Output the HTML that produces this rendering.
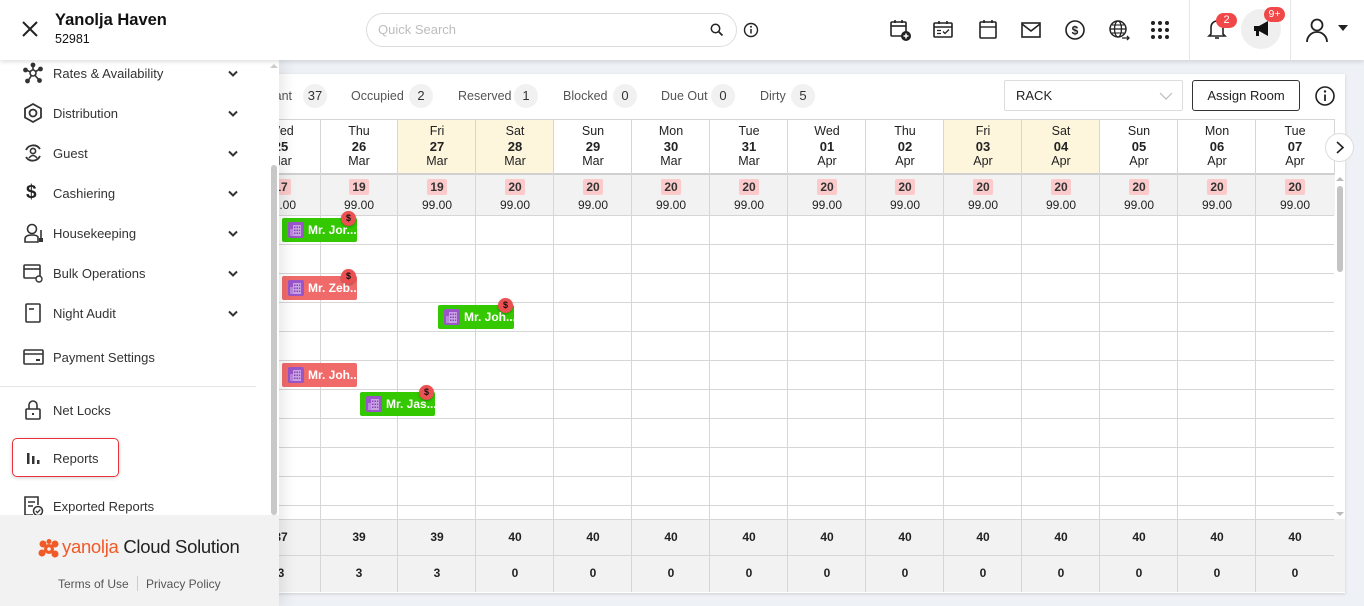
<!DOCTYPE html>
<html><head><meta charset="utf-8">
<style>
*{box-sizing:border-box;margin:0;padding:0}
body{width:1364px;height:606px;overflow:hidden;background:#eef2f6;font-family:"Liberation Sans",Arial,sans-serif;color:#222;position:relative}
.a{position:absolute}
.top{left:0;top:0;width:1364px;height:60px;background:#fff;box-shadow:0 2px 4px rgba(0,0,0,.12);z-index:5}
.card{left:200px;top:74px;width:1145px;height:519px;background:#fff;box-shadow:0 1px 3px rgba(0,0,0,.15)}
.side{left:0;top:60px;width:279px;height:546px;background:#fff;z-index:4;box-shadow:4px 0 14px rgba(0,0,0,.10)}
.mi{position:absolute;left:53px;font-size:13px;color:#333;line-height:16px}
.ic{position:absolute;left:22px;width:22px;height:22px}
.chev{position:absolute;left:227px;width:12px;height:8px}
.st{position:absolute;top:89px;font-size:12.5px;color:#555;line-height:15px}
.bd{position:absolute;top:84px;width:24px;height:24px;border-radius:12px;background:#f1f1f1;font-size:13px;color:#333;text-align:center;line-height:24px}
.h{position:absolute;top:120px;width:78px;height:53px;text-align:center;font-size:12.5px;line-height:15px;padding-top:4px;color:#222}
.h b{font-size:13px;display:block}
.y{background:#fdf6dd}
.vl{position:absolute;top:119px;width:1px;height:473px;background:#d6d6d6}
.hl{position:absolute;left:242px;width:1092px;height:1px;background:#d6d6d6}
.rb{position:absolute;top:178px;width:78px;text-align:center}
.rb span{display:inline-block;background:#fccaca;font-size:12px;font-weight:bold;line-height:16px;padding:0 3px;border-radius:2px;color:#333}
.pr{position:absolute;top:198px;width:78px;text-align:center;font-size:12px;color:#222;line-height:14px}
.sv{position:absolute;width:78px;text-align:center;font-size:12px;font-weight:bold;color:#222;line-height:14px}
.bk{position:absolute;width:75px;height:24px;border-radius:2px;color:#fff;font-size:12px;font-weight:bold;line-height:24px;padding-left:26px;white-space:nowrap;overflow:hidden}
.bk svg{position:absolute;left:6px;top:4px}
.g{background:#33c800}
.r{background:#f06a6a}
.dl{position:absolute;width:15px;height:15px;border-radius:8px;background:#ec5050;color:#111;font-size:9px;font-weight:bold;text-align:center;line-height:15px;box-shadow:0 1px 2px rgba(0,0,0,.3)}
.ti{position:absolute;top:18px;width:24px;height:24px}
</style></head><body>

<!-- card -->
<div class="a card"></div>

<!-- stats -->
<div class="st" style="left:254px">Vacant</div><div class="bd" style="left:303px">37</div>
<div class="st" style="left:351px">Occupied</div><div class="bd" style="left:409px">2</div>
<div class="st" style="left:458px">Reserved</div><div class="bd" style="left:514px">1</div>
<div class="st" style="left:563px">Blocked</div><div class="bd" style="left:613px">0</div>
<div class="st" style="left:661px">Due Out</div><div class="bd" style="left:711px">0</div>
<div class="st" style="left:760px">Dirty</div><div class="bd" style="left:791px">5</div>

<div class="a" style="left:1004px;top:80px;width:179px;height:31px;border:1px solid #ddd;border-radius:2px;font-size:13px;line-height:29px;padding-left:11px;color:#222">RACK
<svg class="a" style="left:154px;top:11px" width="14" height="8"><path d="M1 1 L7 7 L13 1" fill="none" stroke="#bbb" stroke-width="1.2"/></svg></div>
<div class="a" style="left:1192px;top:80px;width:108px;height:31px;border:1px solid #333;border-radius:3px;font-size:13px;line-height:29px;text-align:center;color:#222">Assign Room</div>
<svg class="a" style="left:1314px;top:85px" width="22" height="22"><circle cx="11" cy="11" r="9" fill="none" stroke="#222" stroke-width="1.6"/><line x1="11" y1="9.5" x2="11" y2="16" stroke="#222" stroke-width="1.8"/><circle cx="11" cy="6.5" r="1.2" fill="#222"/></svg>

<!-- grid backgrounds -->
<div class="a" style="left:242px;top:175px;width:1093px;height:40px;background:#f2f2f2"></div>
<div class="a" style="left:242px;top:519px;width:1103px;height:73px;background:#f2f2f2"></div>

<!-- header cells -->
<div class="h" style="left:242px">Wed<b>25</b>Mar</div>
<div class="h" style="left:320px">Thu<b>26</b>Mar</div>
<div class="h y" style="left:398px">Fri<b>27</b>Mar</div>
<div class="h y" style="left:476px">Sat<b>28</b>Mar</div>
<div class="h" style="left:554px">Sun<b>29</b>Mar</div>
<div class="h" style="left:632px">Mon<b>30</b>Mar</div>
<div class="h" style="left:710px">Tue<b>31</b>Mar</div>
<div class="h" style="left:788px">Wed<b>01</b>Apr</div>
<div class="h" style="left:866px">Thu<b>02</b>Apr</div>
<div class="h y" style="left:944px">Fri<b>03</b>Apr</div>
<div class="h y" style="left:1022px">Sat<b>04</b>Apr</div>
<div class="h" style="left:1100px">Sun<b>05</b>Apr</div>
<div class="h" style="left:1178px">Mon<b>06</b>Apr</div>
<div class="h" style="left:1256px">Tue<b>07</b>Apr</div>

<!-- horizontal lines -->
<div class="hl" style="top:119px"></div>
<div class="hl" style="top:173px;height:2px;background:#d0d0d0"></div>
<div class="hl" style="top:215px"></div>
<div class="hl" style="top:244px"></div>
<div class="hl" style="top:273px"></div>
<div class="hl" style="top:302px"></div>
<div class="hl" style="top:331px"></div>
<div class="hl" style="top:360px"></div>
<div class="hl" style="top:389px"></div>
<div class="hl" style="top:418px"></div>
<div class="hl" style="top:447px"></div>
<div class="hl" style="top:476px"></div>
<div class="hl" style="top:505px"></div>
<div class="hl" style="top:519px"></div>
<div class="hl" style="top:555px"></div>

<!-- vertical lines -->
<div class="vl" style="left:242px"></div><div class="vl" style="left:320px"></div><div class="vl" style="left:397px"></div><div class="vl" style="left:475px"></div><div class="vl" style="left:553px"></div><div class="vl" style="left:631px"></div><div class="vl" style="left:709px"></div><div class="vl" style="left:787px"></div><div class="vl" style="left:865px"></div><div class="vl" style="left:943px"></div><div class="vl" style="left:1021px"></div><div class="vl" style="left:1099px"></div><div class="vl" style="left:1177px"></div><div class="vl" style="left:1255px"></div><div class="vl" style="left:1334px;top:119px;height:56px"></div>

<!-- rate badges -->
<div class="rb" style="left:242px"><span>17</span></div><div class="rb" style="left:320px"><span>19</span></div><div class="rb" style="left:398px"><span>19</span></div><div class="rb" style="left:476px"><span>20</span></div><div class="rb" style="left:554px"><span>20</span></div><div class="rb" style="left:632px"><span>20</span></div><div class="rb" style="left:710px"><span>20</span></div><div class="rb" style="left:788px"><span>20</span></div><div class="rb" style="left:866px"><span>20</span></div><div class="rb" style="left:944px"><span>20</span></div><div class="rb" style="left:1022px"><span>20</span></div><div class="rb" style="left:1100px"><span>20</span></div><div class="rb" style="left:1178px"><span>20</span></div><div class="rb" style="left:1256px"><span>20</span></div>
<div class="pr" style="left:242px">99.00</div><div class="pr" style="left:320px">99.00</div><div class="pr" style="left:398px">99.00</div><div class="pr" style="left:476px">99.00</div><div class="pr" style="left:554px">99.00</div><div class="pr" style="left:632px">99.00</div><div class="pr" style="left:710px">99.00</div><div class="pr" style="left:788px">99.00</div><div class="pr" style="left:866px">99.00</div><div class="pr" style="left:944px">99.00</div><div class="pr" style="left:1022px">99.00</div><div class="pr" style="left:1100px">99.00</div><div class="pr" style="left:1178px">99.00</div><div class="pr" style="left:1256px">99.00</div>

<!-- summary -->
<div class="sv" style="left:242px;top:530px">37</div><div class="sv" style="left:320px;top:530px">39</div><div class="sv" style="left:398px;top:530px">39</div><div class="sv" style="left:476px;top:530px">40</div><div class="sv" style="left:554px;top:530px">40</div><div class="sv" style="left:632px;top:530px">40</div><div class="sv" style="left:710px;top:530px">40</div><div class="sv" style="left:788px;top:530px">40</div><div class="sv" style="left:866px;top:530px">40</div><div class="sv" style="left:944px;top:530px">40</div><div class="sv" style="left:1022px;top:530px">40</div><div class="sv" style="left:1100px;top:530px">40</div><div class="sv" style="left:1178px;top:530px">40</div><div class="sv" style="left:1256px;top:530px">40</div>
<div class="sv" style="left:242px;top:566px">3</div><div class="sv" style="left:320px;top:566px">3</div><div class="sv" style="left:398px;top:566px">3</div><div class="sv" style="left:476px;top:566px">0</div><div class="sv" style="left:554px;top:566px">0</div><div class="sv" style="left:632px;top:566px">0</div><div class="sv" style="left:710px;top:566px">0</div><div class="sv" style="left:788px;top:566px">0</div><div class="sv" style="left:866px;top:566px">0</div><div class="sv" style="left:944px;top:566px">0</div><div class="sv" style="left:1022px;top:566px">0</div><div class="sv" style="left:1100px;top:566px">0</div><div class="sv" style="left:1178px;top:566px">0</div><div class="sv" style="left:1256px;top:566px">0</div>

<!-- grid scrollbar -->
<div class="a" style="left:1335px;top:175px;width:10px;height:344px;background:#fff"></div>
<div class="a" style="left:1337px;top:186px;width:6px;height:86px;border-radius:3px;background:#c4c4c4"></div>
<svg class="a" style="left:1336px;top:176px" width="8" height="6"><path d="M0 5 L4 1 L8 5Z" fill="#bbb"/></svg>
<svg class="a" style="left:1336px;top:511px" width="8" height="6"><path d="M0 1 L4 5 L8 1Z" fill="#bbb"/></svg>

<!-- next arrow -->
<div class="a" style="left:1325px;top:133px;width:29px;height:29px;border-radius:15px;background:#fff;border:1px solid #ddd"></div>
<svg class="a" style="left:1333px;top:140px" width="14" height="15"><path d="M4 2 L10 7.5 L4 13" fill="none" stroke="#222" stroke-width="1.6"/></svg>

<!-- bookings -->
<svg width="0" height="0" style="position:absolute"><defs><g id="bi"><rect x="0" y="0" width="16" height="16" rx="2" fill="#9a55c8"/><rect x="5" y="3" width="8" height="11" fill="#c9a2e4"/><rect x="2" y="7" width="3" height="7" fill="#b787d9"/><g fill="#8a45bb"><rect x="6" y="4.5" width="1.5" height="1.5"/><rect x="8.5" y="4.5" width="1.5" height="1.5"/><rect x="11" y="4.5" width="1.2" height="1.5"/><rect x="6" y="7.5" width="1.5" height="1.5"/><rect x="8.5" y="7.5" width="1.5" height="1.5"/><rect x="11" y="7.5" width="1.2" height="1.5"/><rect x="6" y="10.5" width="1.5" height="1.5"/><rect x="8.5" y="10.5" width="1.5" height="1.5"/><rect x="11" y="10.5" width="1.2" height="1.5"/></g></g></defs></svg>
<div class="bk g" style="left:282px;top:218px"><svg width="16" height="16"><use href="#bi"/></svg>Mr. Jor...</div>
<div class="dl" style="left:341px;top:211px">$</div>
<div class="bk r" style="left:282px;top:276px"><svg width="16" height="16"><use href="#bi"/></svg>Mr. Zeb...</div>
<div class="dl" style="left:341px;top:269px">$</div>
<div class="bk g" style="left:438px;top:305px;width:76px"><svg width="16" height="16"><use href="#bi"/></svg>Mr. Joh...</div>
<div class="dl" style="left:498px;top:298px">$</div>
<div class="bk r" style="left:282px;top:363px"><svg width="16" height="16"><use href="#bi"/></svg>Mr. Joh...</div>
<div class="bk g" style="left:360px;top:392px"><svg width="16" height="16"><use href="#bi"/></svg>Mr. Jas...</div>
<div class="dl" style="left:419px;top:385px">$</div>

<!-- sidebar -->
<div class="a side">
  <!-- scrollbar -->
  <svg class="a" style="left:270px;top:3px" width="8" height="6"><path d="M0 5 L4 1 L8 5Z" fill="#ccc"/></svg>
  <div class="a" style="left:271px;top:105px;width:6px;height:350px;border-radius:3px;background:#c8c8c8"></div>

  <!-- items (top coords relative to sidebar: page y - 60) -->
  <svg class="ic" style="top:2px" viewBox="0 0 22 22"><g stroke="#333" stroke-width="1.6" fill="#333"><line x1="11" y1="11" x2="11" y2="3"/><line x1="11" y1="11" x2="4" y2="8"/><line x1="11" y1="11" x2="18" y2="7"/><line x1="11" y1="11" x2="6" y2="19"/><line x1="11" y1="11" x2="17" y2="18"/><circle cx="11" cy="3" r="1.6"/><circle cx="3.5" cy="8" r="1.6"/><circle cx="18.5" cy="7" r="1.6"/><circle cx="5.5" cy="19" r="1.6"/><circle cx="17.5" cy="18.5" r="1.6"/><circle cx="11" cy="11" r="3" fill="#fff"/></g></svg>
  <div class="mi" style="top:6px">Rates &amp; Availability</div>
  <svg class="chev" style="top:10px"><path d="M2 1.5 L6 5.5 L10 1.5" fill="none" stroke="#333" stroke-width="2"/></svg>

  <svg class="ic" style="top:42px" viewBox="0 0 22 22"><path d="M11 2 L19 6.5 L19 15.5 L11 20 L3 15.5 L3 6.5Z" fill="none" stroke="#333" stroke-width="1.8"/><circle cx="11" cy="11" r="3.5" fill="none" stroke="#333" stroke-width="1.8"/></svg>
  <div class="mi" style="top:46px">Distribution</div>
  <svg class="chev" style="top:50px"><path d="M2 1.5 L6 5.5 L10 1.5" fill="none" stroke="#333" stroke-width="2"/></svg>

  <svg class="ic" style="top:82px" viewBox="0 0 22 22"><path d="M4 8 A8 8 0 0 1 18 7 M18 14 A8 8 0 0 1 4 15" fill="none" stroke="#333" stroke-width="1.8"/><circle cx="11" cy="9" r="2.6" fill="none" stroke="#333" stroke-width="1.6"/><path d="M7 16 Q11 11 15 16" fill="none" stroke="#333" stroke-width="1.6"/></svg>
  <div class="mi" style="top:86px">Guest</div>
  <svg class="chev" style="top:90px"><path d="M2 1.5 L6 5.5 L10 1.5" fill="none" stroke="#333" stroke-width="2"/></svg>

  <div class="a" style="left:26px;top:122px;font-size:19px;font-weight:bold;color:#222">$</div>
  <div class="mi" style="top:126px">Cashiering</div>
  <svg class="chev" style="top:130px"><path d="M2 1.5 L6 5.5 L10 1.5" fill="none" stroke="#333" stroke-width="2"/></svg>

  <svg class="ic" style="top:162px" viewBox="0 0 22 22"><circle cx="10" cy="7" r="4.5" fill="none" stroke="#333" stroke-width="1.6"/><path d="M3 20 L3 17 Q3 13 10 13 Q15 13 16 15 L16 20Z" fill="none" stroke="#333" stroke-width="1.6"/><line x1="19" y1="8" x2="19" y2="20" stroke="#333" stroke-width="1.6"/><rect x="17" y="16" width="4" height="4" fill="#333"/></svg>
  <div class="mi" style="top:166px">Housekeeping</div>
  <svg class="chev" style="top:170px"><path d="M2 1.5 L6 5.5 L10 1.5" fill="none" stroke="#333" stroke-width="2"/></svg>

  <svg class="ic" style="top:202px" viewBox="0 0 22 22"><rect x="2" y="3" width="16" height="13" rx="1" fill="none" stroke="#333" stroke-width="1.6"/><line x1="2" y1="7" x2="18" y2="7" stroke="#333" stroke-width="1.6"/><circle cx="17" cy="17" r="3" fill="#fff" stroke="#333" stroke-width="1.4"/></svg>
  <div class="mi" style="top:206px">Bulk Operations</div>
  <svg class="chev" style="top:210px"><path d="M2 1.5 L6 5.5 L10 1.5" fill="none" stroke="#333" stroke-width="2"/></svg>

  <svg class="ic" style="top:242px" viewBox="0 0 22 22"><rect x="4" y="2" width="14" height="18" rx="1" fill="none" stroke="#333" stroke-width="1.6"/><line x1="7" y1="7" x2="12" y2="7" stroke="#333" stroke-width="1.6"/></svg>
  <div class="mi" style="top:246px">Night Audit</div>
  <svg class="chev" style="top:250px"><path d="M2 1.5 L6 5.5 L10 1.5" fill="none" stroke="#333" stroke-width="2"/></svg>

  <svg class="ic" style="top:286px" viewBox="0 0 22 22"><rect x="2" y="4" width="19" height="14" rx="1" fill="none" stroke="#333" stroke-width="1.6"/><line x1="2" y1="8" x2="21" y2="8" stroke="#333" stroke-width="1.6"/><rect x="14" y="13" width="4" height="2" fill="#333"/></svg>
  <div class="mi" style="top:290px">Payment Settings</div>

  <div class="a" style="left:0;top:326px;width:256px;height:1px;background:#e6e6e6"></div>

  <svg class="ic" style="top:339px" viewBox="0 0 22 22"><path d="M7 10 L7 6 A4 4 0 0 1 15 6 L15 10" fill="none" stroke="#333" stroke-width="1.6"/><rect x="4" y="10" width="14" height="10" rx="1" fill="none" stroke="#333" stroke-width="1.6"/><rect x="10" y="14" width="2" height="2" fill="#333"/></svg>
  <div class="mi" style="top:343px">Net Locks</div>

  <div class="a" style="left:12px;top:378px;width:107px;height:39px;border:1.5px solid #e8323a;border-radius:5px;box-shadow:0 1px 4px rgba(0,0,0,.18)"></div>
  <svg class="a" style="left:25px;top:390px" width="16" height="16"><rect x="2" y="3" width="2.5" height="11" fill="#333"/><rect x="7" y="6" width="2.5" height="8" fill="#333"/><rect x="12" y="10" width="2.5" height="4" fill="#333"/></svg>
  <div class="mi" style="top:391px">Reports</div>

  <svg class="ic" style="top:435px" viewBox="0 0 22 22"><path d="M16 10 L16 2 L3 2 L3 20 L11 20" fill="none" stroke="#333" stroke-width="1.6"/><line x1="6" y1="7" x2="13" y2="7" stroke="#333" stroke-width="1.5"/><line x1="6" y1="11" x2="11" y2="11" stroke="#333" stroke-width="1.5"/><circle cx="16" cy="16" r="4.5" fill="#fff" stroke="#333" stroke-width="1.5"/><path d="M13.8 16 L15.5 17.6 L18.3 14.6" fill="none" stroke="#333" stroke-width="1.3"/></svg>
  <div class="mi" style="top:439px">Exported Reports</div>

  <!-- footer -->
  <div class="a" style="left:0;top:455px;width:279px;height:91px;background:#f2f2f2"></div>
  <svg class="a" style="left:38px;top:479px" width="22" height="20" viewBox="0 0 22 20"><g fill="#f05a28"><circle cx="11" cy="10" r="5"/><circle cx="5" cy="5" r="3.5"/><circle cx="17" cy="5" r="3.5"/><circle cx="4" cy="14" r="3.5"/><circle cx="17" cy="15" r="3.5"/><circle cx="11" cy="2.5" r="2.5"/></g><circle cx="11" cy="10" r="1.8" fill="#f2f2f2"/></svg>
  <div class="a" style="left:62px;top:476px;font-size:18.5px;line-height:22px;white-space:nowrap;letter-spacing:-0.3px"><span style="color:#f05a28">yanolja</span><span style="color:#222"> Cloud Solution</span></div>
  <div class="a" style="left:58px;top:517px;font-size:12px;color:#555;white-space:nowrap">Terms of Use</div>
  <div class="a" style="left:137px;top:516px;width:1px;height:15px;background:#ccc"></div>
  <div class="a" style="left:146px;top:517px;font-size:12px;color:#555;white-space:nowrap">Privacy Policy</div>
</div>

<!-- topbar -->
<div class="a top">
  <svg class="a" style="left:21px;top:20px" width="18" height="18"><path d="M2 2 L16 16 M16 2 L2 16" stroke="#222" stroke-width="2"/></svg>
  <div class="a" style="left:55px;top:11px;font-size:16.5px;font-weight:bold;color:#111;white-space:nowrap">Yanolja Haven</div>
  <div class="a" style="left:55px;top:32px;font-size:12.5px;color:#111">52981</div>

  <div class="a" style="left:366px;top:13px;width:371px;height:34px;border:1px solid #dcdcdc;border-radius:17px"></div>
  <div class="a" style="left:378px;top:22px;font-size:13px;color:#bdbdbd">Quick Search</div>
  <svg class="a" style="left:710px;top:23px" width="14" height="14"><circle cx="5.5" cy="5.5" r="4.2" fill="none" stroke="#222" stroke-width="1.5"/><line x1="8.5" y1="8.5" x2="12.5" y2="12.5" stroke="#222" stroke-width="1.7"/></svg>
  <svg class="a" style="left:743px;top:22px" width="16" height="16"><circle cx="8" cy="8" r="6.5" fill="none" stroke="#222" stroke-width="1.4"/><line x1="8" y1="7" x2="8" y2="11.5" stroke="#222" stroke-width="1.5"/><circle cx="8" cy="4.8" r="1" fill="#222"/></svg>

  <!-- right icons -->
  <svg class="ti" style="left:888px" viewBox="0 0 24 24"><rect x="3" y="4" width="15" height="14" rx="1" fill="none" stroke="#222" stroke-width="1.6"/><line x1="3" y1="8" x2="18" y2="8" stroke="#222" stroke-width="1.6"/><line x1="7" y1="2" x2="7" y2="5" stroke="#222" stroke-width="1.6"/><line x1="14" y1="2" x2="14" y2="5" stroke="#222" stroke-width="1.6"/><circle cx="18" cy="18" r="5" fill="#222"/><path d="M18 15.5 V20.5 M15.5 18 H20.5" stroke="#fff" stroke-width="1.5"/></svg>
  <svg class="ti" style="left:931px" viewBox="0 0 24 24"><rect x="3" y="5" width="18" height="14" rx="1" fill="none" stroke="#222" stroke-width="1.6"/><line x1="3" y1="9" x2="21" y2="9" stroke="#222" stroke-width="1.4"/><line x1="8" y1="3" x2="8" y2="6" stroke="#222" stroke-width="1.6"/><line x1="16" y1="3" x2="16" y2="6" stroke="#222" stroke-width="1.6"/><path d="M6 12.5 H10 M6 15.5 H10 M12 13.5 L14 15.5 L18 11.5" fill="none" stroke="#222" stroke-width="1.3"/></svg>
  <svg class="ti" style="left:976px" viewBox="0 0 24 24"><rect x="4" y="4" width="16" height="16" rx="1" fill="none" stroke="#222" stroke-width="1.6"/><line x1="4" y1="9" x2="20" y2="9" stroke="#222" stroke-width="1.4"/><line x1="8" y1="2" x2="8" y2="5" stroke="#222" stroke-width="1.6"/><line x1="16" y1="2" x2="16" y2="5" stroke="#222" stroke-width="1.6"/></svg>
  <svg class="ti" style="left:1019px" viewBox="0 0 24 24"><rect x="3" y="5" width="18" height="14" fill="none" stroke="#222" stroke-width="1.6"/><path d="M3 6 L12 13 L21 6" fill="none" stroke="#222" stroke-width="1.6"/></svg>
  <svg class="ti" style="left:1063px" viewBox="0 0 24 24"><circle cx="12" cy="12" r="9" fill="none" stroke="#222" stroke-width="1.6"/><text x="12" y="16.5" font-size="12" font-weight="bold" text-anchor="middle" font-family="Liberation Sans" fill="#222">$</text></svg>
  <svg class="ti" style="left:1107px" viewBox="0 0 24 24"><circle cx="11" cy="11" r="8" fill="none" stroke="#222" stroke-width="1.5"/><ellipse cx="11" cy="11" rx="3.5" ry="8" fill="none" stroke="#222" stroke-width="1.3"/><line x1="3" y1="11" x2="19" y2="11" stroke="#222" stroke-width="1.3"/><line x1="5" y1="7" x2="17" y2="7" stroke="#222" stroke-width="1.1"/><line x1="5" y1="15" x2="17" y2="15" stroke="#222" stroke-width="1.1"/><path d="M15 20 H22 M20 18 L22 20 L20 22" fill="none" stroke="#222" stroke-width="1.3"/></svg>
  <svg class="ti" style="left:1148px" viewBox="0 0 24 24"><g fill="#222"><circle cx="5" cy="5" r="2"/><circle cx="12" cy="5" r="2"/><circle cx="19" cy="5" r="2"/><circle cx="5" cy="12" r="2"/><circle cx="12" cy="12" r="2"/><circle cx="19" cy="12" r="2"/><circle cx="5" cy="19" r="2"/><circle cx="12" cy="19" r="2"/><circle cx="19" cy="19" r="2"/></g></svg>

  <div class="a" style="left:1189px;top:0;width:1px;height:60px;background:#e6e6e6"></div>
  <svg class="a" style="left:1207px;top:18px" width="20" height="22" viewBox="0 0 20 22"><path d="M4 16 L4 9 A6 6 0 0 1 16 9 L16 16 L18 18 L2 18 Z" fill="none" stroke="#222" stroke-width="1.6"/><path d="M8 20 H12" stroke="#222" stroke-width="1.6"/></svg>
  <div class="a" style="left:1216px;top:13px;width:21px;height:15px;border-radius:8px;background:#f04848;color:#fff;font-size:11px;text-align:center;line-height:15px">2</div>
  <div class="a" style="left:1241px;top:9px;width:40px;height:40px;border-radius:20px;background:#efefef"></div>
  <svg class="a" style="left:1251px;top:19px" width="22" height="20" viewBox="0 0 22 20"><path d="M3 7 L8 7 L17 2 L17 17 L8 12 L3 12 Z" fill="#111"/><rect x="5" y="12" width="3" height="5" fill="#111"/></svg>
  <div class="a" style="left:1264px;top:7px;width:21px;height:15px;border-radius:8px;background:#f04848;color:#fff;font-size:10.5px;text-align:center;line-height:15px">9+</div>
  <div class="a" style="left:1290px;top:0;width:1px;height:60px;background:#e6e6e6"></div>
  <svg class="a" style="left:1304px;top:17px" width="26" height="26" viewBox="0 0 26 26"><circle cx="13" cy="8" r="5.5" fill="none" stroke="#222" stroke-width="1.8"/><path d="M3 25 A10 10 0 0 1 23 25" fill="none" stroke="#222" stroke-width="1.8"/></svg>
  <svg class="a" style="left:1338px;top:25px" width="10" height="6"><path d="M0 0 L10 0 L5 6Z" fill="#222"/></svg>
</div>

</body></html>
